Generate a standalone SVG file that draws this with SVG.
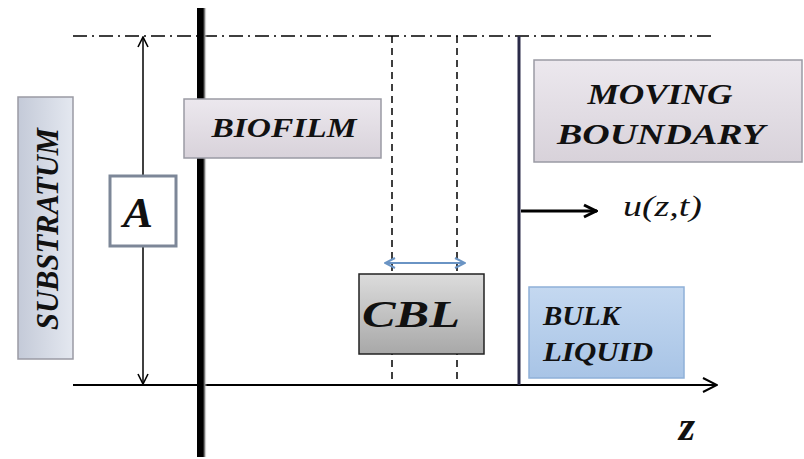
<svg xmlns="http://www.w3.org/2000/svg" width="804" height="459" viewBox="0 0 804 459">
  <defs>
    <linearGradient id="gSub" x1="0" y1="0" x2="1" y2="0">
      <stop offset="0" stop-color="#c4cad8"/>
      <stop offset="1" stop-color="#e4e8f0"/>
    </linearGradient>
    <linearGradient id="gBio" x1="0" y1="0" x2="0" y2="1">
      <stop offset="0" stop-color="#ece8ee"/>
      <stop offset="1" stop-color="#d8d2da"/>
    </linearGradient>
    <linearGradient id="gCbl" x1="0" y1="0" x2="0" y2="1">
      <stop offset="0" stop-color="#dcdcdc"/>
      <stop offset="1" stop-color="#a8a8a8"/>
    </linearGradient>
    <linearGradient id="gBulk" x1="0" y1="0" x2="0" y2="1">
      <stop offset="0" stop-color="#c4d8f0"/>
      <stop offset="1" stop-color="#a8c4e6"/>
    </linearGradient>
    <linearGradient id="gWall" x1="0" y1="0" x2="1" y2="0">
      <stop offset="0" stop-color="#000"/>
      <stop offset="0.6" stop-color="#000"/>
      <stop offset="0.75" stop-color="#777"/>
      <stop offset="1" stop-color="#fff" stop-opacity="0"/>
    </linearGradient>
    <marker id="open" viewBox="0 0 12 12" refX="11" refY="6" markerWidth="12" markerHeight="12" markerUnits="userSpaceOnUse" orient="auto-start-reverse">
      <path d="M1,1 L11,6 L1,11" fill="none" stroke="#000" stroke-width="1.6"/>
    </marker>
    <marker id="axisHead" viewBox="0 0 16 16" refX="15" refY="8" markerWidth="16" markerHeight="16" markerUnits="userSpaceOnUse" orient="auto">
      <path d="M1,1 L15,8 L1,15" fill="none" stroke="#000" stroke-width="2"/>
    </marker>
    <marker id="uHead" viewBox="0 0 16 16" refX="15" refY="8" markerWidth="16" markerHeight="16" markerUnits="userSpaceOnUse" orient="auto">
      <path d="M2,2 L14,8 L2,14" fill="none" stroke="#000" stroke-width="3"/>
    </marker>
    <marker id="blueHead" viewBox="0 0 12 12" refX="11" refY="6" markerWidth="12" markerHeight="12" markerUnits="userSpaceOnUse" orient="auto-start-reverse">
      <path d="M1,1 L11,6 L1,11" fill="none" stroke="#6a94c4" stroke-width="2"/>
    </marker>
  </defs>
  <style>
    .lbl { font-family: "Liberation Serif", "Times New Roman", Times, "DejaVu Serif", serif; font-weight: 700; font-style: italic; fill: #111; }
    .it { font-family: "Liberation Serif", "Times New Roman", Times, "DejaVu Serif", serif; font-style: italic; fill: #111; }
    .box { stroke: #9a9aa4; stroke-width: 1.5; }
  </style>

  <rect width="804" height="459" fill="#fff"/>

  <g id="connectors">
    <!-- top reference line -->
    <line x1="73" y1="36" x2="716" y2="36" stroke="#000" stroke-width="1.5" stroke-dasharray="14,5,2,5"/>
    <!-- CBL limits -->
    <line x1="392" y1="36" x2="392" y2="385" stroke="#000" stroke-width="1.5" stroke-dasharray="7,5"/>
    <line x1="457" y1="36" x2="457" y2="385" stroke="#000" stroke-width="1.5" stroke-dasharray="7,5"/>
    <!-- z axis -->
    <line x1="73" y1="385" x2="717" y2="385" stroke="#000" stroke-width="2" marker-end="url(#axisHead)"/>
    <!-- thickness A -->
    <line x1="143" y1="37" x2="143" y2="384" stroke="#000" stroke-width="1.5" marker-start="url(#open)" marker-end="url(#open)"/>
    <!-- substratum / biofilm interface -->
    <rect x="197" y="8" width="10" height="449" fill="url(#gWall)"/>
    <!-- moving boundary -->
    <line x1="519" y1="36" x2="519" y2="385" stroke="#2a2a48" stroke-width="3"/>
    <!-- boundary velocity -->
    <line x1="521" y1="211" x2="597" y2="211" stroke="#000" stroke-width="3" marker-end="url(#uHead)"/>
    <!-- CBL width -->
    <line x1="385" y1="263" x2="465" y2="263" stroke="#6a94c4" stroke-width="2" marker-start="url(#blueHead)" marker-end="url(#blueHead)"/>
  </g>

  <g id="substratum">
    <rect class="box" x="18" y="97" width="55" height="262" fill="url(#gSub)"/>
    <text class="lbl" font-size="31" text-anchor="middle" textLength="202" lengthAdjust="spacingAndGlyphs" transform="translate(58,229) rotate(-90)">SUBSTRATUM</text>
  </g>

  <g id="thickness-a">
    <rect x="110" y="176" width="66" height="70" fill="#fff" stroke="#7d8798" stroke-width="3"/>
    <text class="lbl" x="138" y="227" font-size="42" text-anchor="middle" textLength="30" lengthAdjust="spacingAndGlyphs">A</text>
  </g>

  <g id="biofilm">
    <rect class="box" x="184" y="99" width="197" height="59" fill="url(#gBio)"/>
    <text class="lbl" x="284" y="137" font-size="27" text-anchor="middle" textLength="145" lengthAdjust="spacingAndGlyphs">BIOFILM</text>
  </g>

  <g id="moving-boundary">
    <rect class="box" x="534" y="60" width="268" height="102" fill="url(#gBio)"/>
    <text class="lbl" x="660" y="104" font-size="29" text-anchor="middle" textLength="145" lengthAdjust="spacingAndGlyphs">MOVING</text>
    <text class="lbl" x="661" y="144" font-size="29" text-anchor="middle" textLength="208" lengthAdjust="spacingAndGlyphs">BOUNDARY</text>
  </g>

  <g id="velocity-label">
    <text class="it" x="623" y="216" font-size="30" textLength="79" lengthAdjust="spacingAndGlyphs">u(z,t)</text>
  </g>

  <g id="cbl">
    <rect x="359" y="274" width="125" height="80" fill="url(#gCbl)" stroke="#222" stroke-width="1.5"/>
    <text class="lbl" x="411" y="327" font-size="38" text-anchor="middle" textLength="98" lengthAdjust="spacingAndGlyphs">CBL</text>
  </g>

  <g id="bulk-liquid">
    <rect x="529" y="287" width="155" height="91" fill="url(#gBulk)" stroke="#8fb0d8" stroke-width="1.5"/>
    <text class="lbl" x="543" y="325" font-size="27" textLength="77" lengthAdjust="spacingAndGlyphs">BULK</text>
    <text class="lbl" x="543" y="361" font-size="27" textLength="110" lengthAdjust="spacingAndGlyphs">LIQUID</text>
  </g>

  <g id="axis-label">
    <text class="lbl" x="687" y="440" font-size="42" text-anchor="middle">z</text>
  </g>
</svg>
